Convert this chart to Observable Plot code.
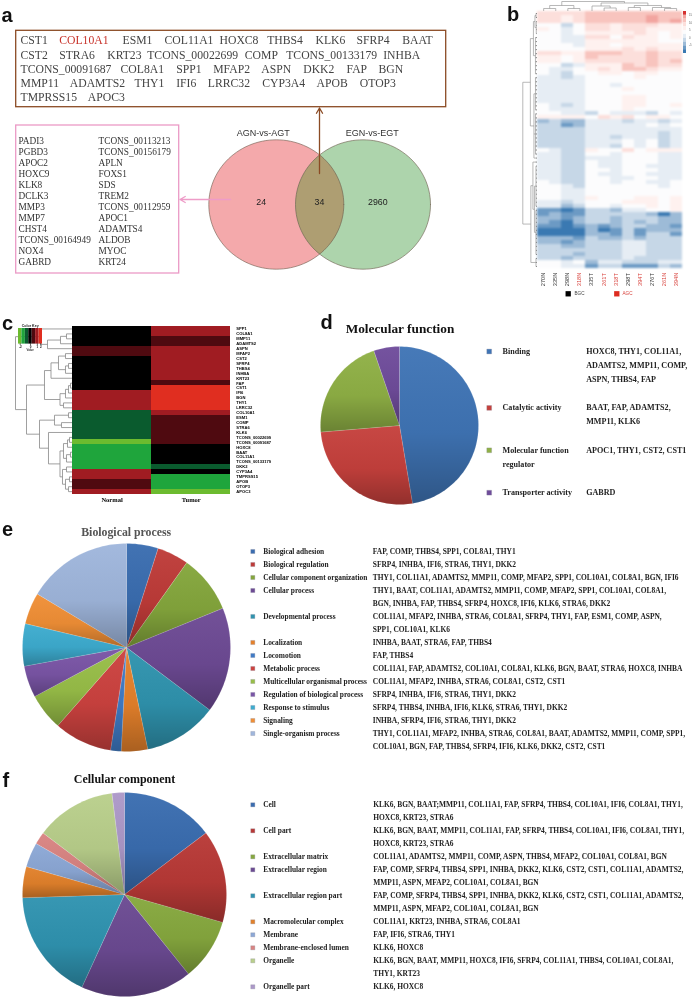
<!DOCTYPE html>
<html>
<head>
<meta charset="utf-8">
<script src="https://cdn.jsdelivr.net/npm/d3@7"></script>
<script src="https://cdn.jsdelivr.net/npm/@observablehq/plot@0.6"></script>
<style>
html,body{margin:0;padding:0;background:#fff}
#fig{position:relative;width:692px;height:999px;overflow:hidden}
#fig>svg{position:absolute}
</style>
</head>
<body>
<svg width="0" height="0" style="position:absolute">
<defs>
<linearGradient id="sliceShade" x1="0" y1="0" x2="0" y2="1">
<stop offset="0" stop-color="#fff" stop-opacity=".04"/>
<stop offset=".55" stop-color="#000" stop-opacity=".04"/>
<stop offset="1" stop-color="#000" stop-opacity=".26"/>
</linearGradient>
</defs>
</svg>
<div id="fig"></div>
<script>
/* ---------- panel a ---------- */
const topGeneRows = [
  ["CST1","COL10A1","ESM1","COL11A1","HOXC8","THBS4","KLK6","SFRP4","BAAT"],
  ["CST2","STRA6","KRT23","TCONS_00022699","COMP","TCONS_00133179","INHBA"],
  ["TCONS_00091687","COL8A1","SPP1","MFAP2","ASPN","DKK2","FAP","BGN"],
  ["MMP11","ADAMTS2","THY1","IFI6","LRRC32","CYP3A4","APOB","OTOP3"],
  ["TMPRSS15","APOC3"]
];
const agnOnlyCol1 = ["PADI3","PGBD3","APOC2","HOXC9","KLK8","DCLK3","MMP3","MMP7","CHST4","TCONS_00164949","NOX4","GABRD"];
const agnOnlyCol2 = ["TCONS_00113213","TCONS_00156179","APLN","FOXS1","SDS","TREM2","TCONS_00112959","APOC1","ADAMTS4","ALDOB","MYOC","KRT24"];
const vennSets = ["AGN-vs-AGT","EGN-vs-EGT"];
const vennCounts = [24,34,2960];

/* ---------- panel b: 12 samples, rows read top to bottom, digit 5 = white, lower = bluer, higher = redder ---------- */
const bSamples = ["270N","335N","298N","318N","335T","261T","318T","298T","394T","276T","261N","394N"];
const bRedSamples = ["318N","261T","318T","394T","261N","394N"];
const bRows = [
"777788888888","776788888988","776788888989","553577677766","654577677666","554566667656",
"554477576656","554466666655","555466566666","555566676766","776688877877","665687777877",
"665677777878","553466687877","544567688766","543556656655","443455556555","444455555555",
"444455455555","444455565555","444455555555","444455566555","444455566555","543455566556",
"544455565555","554435444354","666657675665","232244434434","331244444545","333344444444",
"333344444434","333344344434","333344454534","333344354534","543365575666","443355455544",
"443344455544","443354455544","443354455444","443355455544","443354455444","443355445544",
"543355455445","554355555545","554455555555","554455555555","554465556656","443455566656",
"442355455656","110133244556","121133333202","221233233322","210233232322","110121233221",
"000020131222","000022131331","222132232333","221233344333","332233344333","333333344333",
"333233344333","332333343333","554524433344","554413311132"
];
const bLevelColors = ["#3A79B2","#6C9AC4","#9DBBD7","#C6D7E7","#E6EDF4","#FCFCFD","#FEF1EF","#FCDFDB","#F8C4BE","#F2A5A0","#D5302F"];
const bKeyLevels = [10,9,8,7,6,5,4,3,2,1,0];
const bKeyLabels = ["15","10","5","0","-5"];
const bGroups = ["BGC","AGC"];
const bColTree = [10,[6,[3,0,0],[3,0,0]],[8.5,[5.5,0,[3.5,0,0]],[6,[4,0,0],[4,0,[3,0,0]]]]];
const bRowTree = [14.4,
  [6.5,[1.5,3],[4.5,[3,[1.5,12],[1.5,11]],[2,1]]],
  [7,[3.5,[1.5,1],[2,11],[2,9]],[4,[2,10],[2.5,[1.2,4],[1.5,2]]]]
];

/* ---------- panel c: level per gene, normal then tumor ---------- */
const cGenes = ["SPP1","COL8A1","MMP11","ADAMTS2","ASPN","MFAP2","CST2","SFRP4","THBS4","INHBA","KRT23","FAP","CST1","IFI6","BGN","THY1","LRRC32","COL10A1","ESM1","COMP","STRA6","KLK6","TCONS_00022699","TCONS_00091687","HOXC8","BAAT","COL11A1","TCONS_00133179","DKK2","CYP3A4","TMPRSS15","APOB","OTOP3","APOC3"];
const cNormal = [0,0,0,0,1,1,0,0,0,0,0,0,0,2,2,2,2,-1,-1,-1,-1,-1,-1,-3,-2,-2,-2,-2,-2,2,2,1,1,2];
const cTumor  = [2,2,1,1,2,2,2,2,2,2,2,1,3,3,3,3,3,2,1,1,1,1,1,1,0,0,0,0,-1,0,-2,-2,-2,-3];
const cLevels = [-3,-2,-1,0,1,2,3];
const cColors = ["#6CBB2F","#1FA53C","#0A5B2E","#000000","#4F0A10","#A01C22","#E02E20"];
const cKeyLabels = {"-3":"-2","0":"0","2":"1","3":"2"};
const cTree = [57,
  [46,
    [33,
      [24,
        [12.5,[10,[7,[4,0,0],[3,0,0]],[6,0,0]],[9,[6,0,[2,0,0]],[5,0,[3,0,0]]]],
        0],
      [18,[11,0,0],[4,0,0]]],
    [28,
      [12.5,[9,0,0],[7,0,[4,0,[2,0,0]]]],
      [21.5,0,[14,[7,0,[4,0,0]],[7,0,0]]]]],
  [32,[25,0,[12,0,[6,0,0]]],0]
];

/* ---------- panel d ---------- */
const mfTerms = [["Binding"],["Catalytic activity"],["Molecular function","regulator"],["Transporter activity"]];
const mfCounts = [9,5,4,1];
const mfGenes = [["HOXC8, THY1, COL11A1,","ADAMTS2, MMP11, COMP,","ASPN, THBS4, FAP"],["BAAT, FAP, ADAMTS2,","MMP11, KLK6"],["APOC1, THY1, CST2, CST1"],["GABRD"]];
const mfColors = ["#3F74B5","#C5403C","#8FB045","#6F4C9B"];

/* ---------- panel e ---------- */
const bpTerms = ["Biological adhesion","Biological regulation","Cellular component organization","Cellular process","Developmental process","Localization","Locomotion","Metabolic process","Multicellular organismal process","Regulation of biological process","Response to stimulus","Signaling","Single-organism process"];
const bpCounts = [6,6,11,20,14,5,2,11,7,6,8,6,20];
const bpGenes = [
["FAP, COMP, THBS4, SPP1, COL8A1, THY1"],
["SFRP4, INHBA, IFI6, STRA6, THY1, DKK2"],
["THY1, COL11A1, ADAMTS2, MMP11, COMP, MFAP2, SPP1, COL10A1, COL8A1, BGN, IFI6"],
["THY1, BAAT, COL11A1, ADAMTS2, MMP11, COMP, MFAP2, SPP1, COL10A1, COL8A1,","BGN, INHBA, FAP, THBS4, SFRP4, HOXC8, IFI6, KLK6, STRA6, DKK2"],
["COL11A1, MFAP2, INHBA, STRA6, COL8A1, SFRP4, THY1, FAP, ESM1, COMP, ASPN,","SPP1, COL10A1, KLK6"],
["INHBA, BAAT, STRA6, FAP, THBS4"],
["FAP, THBS4"],
["COL11A1, FAP, ADAMTS2, COL10A1, COL8A1, KLK6, BGN, BAAT, STRA6, HOXC8, INHBA"],
["COL11A1, MFAP2, INHBA, STRA6, COL8A1, CST2, CST1"],
["SFRP4, INHBA, IFI6, STRA6, THY1, DKK2"],
["SFRP4, THBS4, INHBA, IFI6, KLK6, STRA6, THY1, DKK2"],
["INHBA, SFRP4, IFI6, STRA6, THY1, DKK2"],
["THY1, COL11A1, MFAP2, INHBA, STRA6, COL8A1, BAAT, ADAMTS2, MMP11, COMP, SPP1,","COL10A1, BGN, FAP, THBS4, SFRP4, IFI6, KLK6, DKK2, CST2, CST1"]
];
const bpColors = ["#3A6DB0","#BE3B38","#84A63C","#6D4A94","#2F93AE","#E5812B","#3F7BC6","#CC423F","#98BE48","#7A55A6","#3DACCF","#F08F36","#9FB6DC"];

/* ---------- panel f ---------- */
const ccTerms = ["Cell","Cell part","Extracellular matrix","Extracellular region","Extracellular region part","Macromolecular complex","Membrane","Membrane-enclosed lumen","Organelle","Organelle part"];
const ccCounts = [15,15,10,18,18,5,4,2,13,2];
const ccGenes = [
["KLK6, BGN, BAAT;MMP11, COL11A1, FAP, SFRP4, THBS4, COL10A1, IFI6, COL8A1, THY1,","HOXC8, KRT23, STRA6"],
["KLK6, BGN, BAAT, MMP11, COL11A1, FAP, SFRP4, THBS4, COL10A1, IFI6, COL8A1, THY1,","HOXC8, KRT23, STRA6"],
["COL11A1, ADAMTS2, MMP11, COMP, ASPN, THBS4, MFAP2, COL10A1, COL8A1, BGN"],
["FAP, COMP, SFRP4, THBS4, SPP1, INHBA, DKK2, KLK6, CST2, CST1, COL11A1, ADAMTS2,","MMP11, ASPN, MFAP2, COL10A1, COL8A1, BGN"],
["FAP, COMP, SFRP4, THBS4, SPP1, INHBA, DKK2, KLK6, CST2, CST1, COL11A1, ADAMTS2,","MMP11, ASPN, MFAP2, COL10A1, COL8A1, BGN"],
["COL11A1, KRT23, INHBA, STRA6, COL8A1"],
["FAP, IFI6, STRA6, THY1"],
["KLK6, HOXC8"],
["KLK6, BGN, BAAT, MMP11, HOXC8, IFI6, SFRP4, COL11A1, THBS4, COL10A1, COL8A1,","THY1, KRT23"],
["KLK6, HOXC8"]
];
const ccColors = ["#3A6DB0","#B83936","#86A83E","#6B4A92","#2F93B0","#E2812B","#8CA8D6","#D98482","#B9CF8B","#AC98C8"];

/* ---------- layout, in page pixels ---------- */
const topCols = [
  [20,58.7,122,164,219,266.7,315,356,401.7],
  [20,58.7,106.7,146.7,244.3,285.7,382.7],
  [20,120,175.7,212.7,260.7,302.7,346,378],
  [20,69.3,134,175.7,207.3,261.7,316,359.3],
  [20,87.3]
];
const topRowY = [40,54.3,68.3,82.7,96.7];
const SERIF = "Liberation Serif", SANS = "Liberation Sans";
const fig = document.getElementById("fig");
function place(svg,x,y,extra){
  svg.style.left = x+"px"; svg.style.top = y+"px"; svg.style.background = "transparent";
  svg.style.maxWidth = "none";
  if (extra) svg.style.filter = extra;
  fig.appendChild(svg); return svg;
}

/* dendrogram geometry from a nested [height, child, child...] list */
function treeSegments(root){
  const segs = []; let next = 0;
  function walk(n){
    if (typeof n === "number"){ // 0 = one leaf; n>0 = a comb of n leaves
      const k = Math.max(1,n), ps = [];
      for (let i=0;i<k;i++) ps.push(next++ + .5);
      return ps.map(p=>({h:0,p,leaf:true}));
    }
    const h = n[0], kids = n.slice(1).flatMap(walk);
    kids.forEach(c=>segs.push({h1:c.h,p1:c.p,h2:h,p2:c.p,leaf:!!c.leaf}));
    const a = kids[0].p, b = kids[kids.length-1].p;
    segs.push({h1:h,p1:a,h2:h,p2:b,leaf:false});
    return [{h,p:(a+b)/2}];
  }
  walk(root);
  return segs;
}

/* pie from a list of counts */
function pieChart(values,colors,cx,cy,r){
  const slices = d3.pie().sort(null)(values);
  const pts = slices.flatMap((s,k)=>{
    const n = Math.max(2,Math.ceil((s.endAngle-s.startAngle)/0.03));
    const arc = d3.range(n+1).map(i=>{
      const t = s.startAngle+(s.endAngle-s.startAngle)*i/n;
      return {k,c:colors[k],x:Math.sin(t),y:Math.cos(t)};
    });
    return [{k,c:colors[k],x:0,y:0},...arc,{k,c:colors[k],x:0,y:0}];
  });
  const pad = 3, size = 2*r+2*pad;
  const dom = [-(r+pad)/r,(r+pad)/r];
  const svg = Plot.plot({
    width:size,height:size,margin:0,
    x:{domain:dom,axis:null},y:{domain:dom,axis:null},
    color:{type:"identity"},
    marks:[
      Plot.line(pts,{x:"x",y:"y",z:"k",fill:"c",stroke:"#fff",strokeOpacity:.25,strokeWidth:.6,strokeLinejoin:"round"}),
      Plot.line(pts,{x:"x",y:"y",z:"k",fill:"url(#sliceShade)",stroke:"none"})
    ]
  });
  return place(svg,cx-r-pad,cy-r-pad,"blur(.3px)");
}

/* legend lines for panels d, e, f */
function legendMarks(terms,genes,colors,opt){
  const lab=[],gen=[],sw=[]; let row=0;
  terms.forEach((t,i)=>{
    const tl = Array.isArray(t)?t:[t];
    const y0 = opt.y0 + row*opt.step + (opt.gap||0)*i;
    sw.push({x:opt.xs,y:y0,c:colors[i]});
    tl.forEach((s,j)=>lab.push({x:opt.xl,y:y0+j*opt.step,s}));
    genes[i].forEach((s,j)=>gen.push({x:opt.xg,y:y0+j*opt.step,s}));
    row += Math.max(tl.length,genes[i].length);
  });
  const base = {x:"x",y:"y",text:"s",textAnchor:"start",fontFamily:SERIF,fontWeight:"bold",fill:"#222"};
  return [
    Plot.dot(sw,{x:"x",y:"y",symbol:"square",r:opt.r,fill:"c",stroke:"#889",strokeWidth:.3}),
    Plot.text(lab,{...base,fontSize:opt.fl}),
    Plot.text(gen,{...base,fontSize:opt.fg})
  ];
}

/* ---------- pies ---------- */
pieChart(mfCounts,mfColors,399,425,79);
pieChart(bpCounts,bpColors,126,647.3,104);
pieChart(ccCounts,ccColors,124,893.7,102);

/* ---------- heatmap b ---------- */
const bCells = bRows.flatMap((r,i)=>[...r].map((v,j)=>({row:i,sample:bSamples[j],v:+v})));
place(Plot.plot({
  width:145.3,height:257,margin:0,
  x:{domain:bSamples,axis:null,padding:0,round:false},
  y:{domain:d3.range(bRows.length),axis:null,padding:0,round:false},
  color:{type:"ordinal",domain:d3.range(11),range:bLevelColors},
  marks:[Plot.cell(bCells,{x:"sample",y:"row",fill:"v",shapeRendering:"crispEdges"})]
}),536.7,10.7,"blur(.9px)");
place(Plot.plot({
  width:3,height:42,margin:0,
  x:{axis:null,domain:[0],padding:0,round:false},
  y:{axis:null,domain:bKeyLevels,padding:0,round:false},
  color:{type:"ordinal",domain:d3.range(11),range:bLevelColors},
  marks:[Plot.cell(bKeyLevels,{x:()=>0,y:d=>d,fill:d=>d})]
}),683.3,10.7,"blur(.4px)");
const bRowSegs = treeSegments(bRowTree);
place(Plot.plot({
  width:15,height:257,margin:0,
  x:{domain:[14.7,0],axis:null},y:{domain:[0,bRows.length],axis:null},
  marks:[Plot.link(bRowSegs,{x1:"h1",y1:"p1",x2:"h2",y2:"p2",stroke:d=>d.leaf?"#222":"#999",strokeWidth:d=>d.leaf?.55:.7})]
}),521.7,10.7);
const bColSegs = treeSegments(bColTree);
place(Plot.plot({
  width:145.3,height:10,margin:0,
  x:{domain:[0,12],axis:null},y:{domain:[0,10],axis:null,range:[10,0]},
  marks:[Plot.link(bColSegs,{x1:"p1",y1:"h1",x2:"p2",y2:"h2",stroke:"#999",strokeWidth:.7})]
}),536.7,0.7);

/* ---------- heatmap c ---------- */
const cCells = cGenes.flatMap((g,i)=>[{gene:g,group:"Normal",v:cNormal[i]},{gene:g,group:"Tumor",v:cTumor[i]}]);
place(Plot.plot({
  width:206,height:182,
  marginLeft:0,marginRight:47.7,marginTop:0,marginBottom:14.4,
  x:{domain:["Normal","Tumor"],padding:0,round:false,label:null},
  y:{domain:cGenes,padding:0,round:false,label:null},
  color:{type:"ordinal",domain:cLevels,range:cColors},
  marks:[
    Plot.cell(cCells,{x:"group",y:"gene",fill:"v",shapeRendering:"crispEdges"}),
    Plot.axisY({anchor:"right",tickSize:0,tickPadding:5.5,fontSize:4.1,fontWeight:"bold",fontFamily:SANS,label:null}),
    Plot.axisX({anchor:"bottom",tickSize:0,tickPadding:3,fontSize:6.5,fontWeight:"bold",fontFamily:SERIF,label:null})
  ]
}),71.7,325.7,"blur(.35px)");
const cSegs = treeSegments(cTree);
place(Plot.plot({
  width:58,height:167.6,margin:0,
  x:{domain:[58,0],axis:null},y:{domain:[0,cGenes.length],axis:null},
  marks:[Plot.link(cSegs,{x1:"h1",y1:"p1",x2:"h2",y2:"p2",stroke:"#888",strokeWidth:.8})]
}),13.7,325.7);
place(Plot.plot({
  width:24,height:26,marginLeft:0,marginRight:0,marginTop:4,marginBottom:6.4,
  x:{domain:cLevels,padding:0,round:false,label:null},
  y:{axis:null,domain:[0],padding:0,round:false},
  color:{type:"ordinal",domain:cLevels,range:cColors},
  marks:[
    Plot.cell(cLevels,{x:d=>d,y:()=>0,fill:d=>d}),
    Plot.axisX({anchor:"bottom",ticks:Object.keys(cKeyLabels).map(Number),tickFormat:d=>cKeyLabels[d],tickSize:1,tickPadding:.5,fontSize:3,fontFamily:SANS,fontWeight:"bold",label:null})
  ]
}),17.7,323.7,"blur(.3px)");

/* ---------- page-level text, frames, Venn ---------- */
const topWords = topGeneRows.flatMap((r,i)=>r.map((w,j)=>({w,x:topCols[i][j],y:topRowY[i]})));
const leftWords = [agnOnlyCol1,agnOnlyCol2].flatMap((c,k)=>c.map((w,i)=>({w,x:k?98:18,y:140.3+i*10.98})));
const VX = [275.8,362.5], VY = 204, VRX = 67.5, VRY = 64.7;
const ellipseArc = (cx,from,to,n)=>d3.range(n+1).map(i=>{const t=from+(to-from)*i/n;return {x:cx+VRX*Math.cos(t),y:VY+VRY*Math.sin(t)};});
const vennA = ellipseArc(VX[0],0,2*Math.PI,120);
const vennB = ellipseArc(VX[1],0,2*Math.PI,120);
const phi = Math.acos((VX[1]-VX[0])/(2*VRX));
const vennLens = [...ellipseArc(VX[0],-phi,phi,40),...ellipseArc(VX[1],Math.PI-phi,Math.PI+phi,40)];
const letters = [["a",1,21],["b",506.5,20.5],["c",1.5,329.5],["d",320,328.5],["e",1.5,535],["f",2,786]];
const titles = [["Molecular function",399.5,328.5,13.3,"#111"],["Biological process",125.7,531.7,11.8,"#555"],["Cellular component",124,779,12,"#111"]];
const colX = i=>536.7+(i+.5)*145.3/12;
const page = Plot.plot({
  width:692,height:999,margin:0,
  x:{domain:[0,692],range:[0,692],axis:null},
  y:{domain:[0,999],range:[0,999],axis:null},
  marks:[
    Plot.rect([0],{x1:15.7,x2:445.7,y1:30.3,y2:106.7,fill:"none",stroke:"#8B4B24",strokeWidth:1.3}),
    Plot.rect([0],{x1:15.7,x2:178.7,y1:125,y2:273,fill:"none",stroke:"#EB9AC6",strokeWidth:1.3}),
    Plot.line(vennA,{x:"x",y:"y",fill:"#F4A9AB",stroke:"none"}),
    Plot.line(vennB,{x:"x",y:"y",fill:"#ADD4AC",stroke:"none"}),
    Plot.line(vennLens,{x:"x",y:"y",fill:"#AE9E72",stroke:"none"}),
    Plot.line(vennA,{x:"x",y:"y",stroke:"#6B5A4B",strokeWidth:.6}),
    Plot.line(vennB,{x:"x",y:"y",stroke:"#6B5A4B",strokeWidth:.6}),
    Plot.arrow([0],{x1:319,y1:173,x2:319,y2:107.5,stroke:"#8B4B24",strokeWidth:1.3,headLength:7,bend:0}),
    Plot.arrow([0],{x1:230,y1:199,x2:179.5,y2:199,stroke:"#EE9CC8",strokeWidth:1.3,headLength:7,bend:0}),
    Plot.text(topWords,{x:"x",y:"y",text:"w",textAnchor:"start",fontFamily:SERIF,fontSize:11.7,
      fill:d=>d.w==="COL10A1"?"#C8332B":"#444",fontWeight:d=>d.w==="COL10A1"?"bold":"normal"}),
    Plot.text(leftWords,{x:"x",y:"y",text:"w",textAnchor:"start",fontFamily:SERIF,fontSize:9.3,fill:"#333"}),
    Plot.text(vennSets,{x:(d,i)=>i?371.7:262.7,y:()=>132.7,text:d=>d,fontFamily:SANS,fontSize:9,fill:"#333"}),
    Plot.text(vennCounts,{x:(d,i)=>[260.7,319,377.3][i],y:()=>202,text:d=>String(d),fontFamily:SANS,fontSize:8.8,fill:"#222"}),
    Plot.text(letters,{x:d=>d[1],y:d=>d[2],text:d=>d[0],textAnchor:"start",lineAnchor:"bottom",dy:0,fontFamily:SANS,fontWeight:"bold",fontSize:20,fill:"#111"}),
    Plot.text(titles,{x:d=>d[1],y:d=>d[2],text:d=>d[0],fontFamily:SERIF,fontWeight:"bold",fontSize:d=>d[3],fill:d=>d[4]}),
    Plot.text(bSamples,{x:(d,i)=>colX(i),y:()=>279,text:d=>d,rotate:-90,fontFamily:SANS,fontSize:5.6,fill:d=>bRedSamples.includes(d)?"#D8423C":"#333"}),
    Plot.dot(bGroups,{x:(d,i)=>i?616.3:567.7,y:()=>293.3,symbol:"square",r:3,fill:(d,i)=>i?"#DD2C20":"#000"}),
    Plot.text(bGroups,{x:(d,i)=>i?622:574,y:()=>293.3,text:d=>d,textAnchor:"start",fontFamily:SANS,fontSize:4.6,fill:(d,i)=>i?"#D8423C":"#444"}),
    Plot.text(bKeyLabels,{x:()=>688.5,y:(d,i)=>15+i*7.5,text:d=>d,textAnchor:"start",fontFamily:SANS,fontSize:2.8,fill:"#666"}),
    Plot.text(["Color Key"],{x:()=>29.7,y:()=>325.5,text:d=>d,fontFamily:SANS,fontWeight:"bold",fontSize:3.6,fill:"#222"}),
    Plot.text(["Value"],{x:()=>29.7,y:()=>350,text:d=>d,fontFamily:SANS,fontWeight:"bold",fontSize:2.8,fill:"#333"}),
    ...legendMarks(mfTerms,mfGenes,mfColors,{xs:488.7,xl:502,xg:585.7,y0:351,step:14,gap:14.4,r:2.7,fl:8.1,fg:8.1}),
    ...legendMarks(bpTerms,bpGenes,bpColors,{xs:252.3,xl:262.7,xg:372.3,y0:551,step:13,r:2.3,fl:7.4,fg:7.45}),
    ...legendMarks(ccTerms,ccGenes,ccColors,{xs:252.3,xl:262.7,xg:372.7,y0:804.3,step:13,r:2.3,fl:7.4,fg:7.45})
  ]
});
place(page,0,0,"blur(.25px)");
</script>
</body>
</html>
